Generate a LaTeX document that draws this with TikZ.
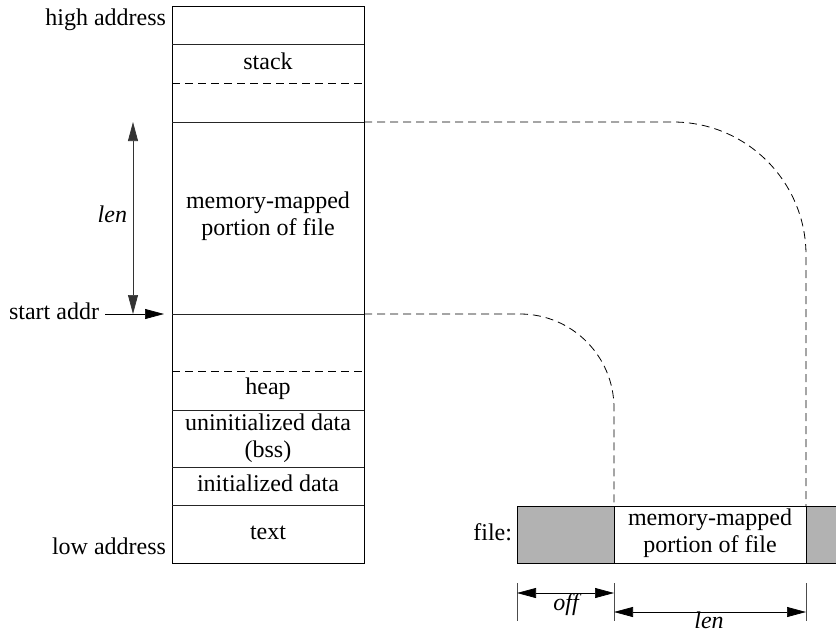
\documentclass[tikz,border=0pt]{standalone}
\usepackage{fontspec}
\setmainfont{Liberation Serif}
\usetikzlibrary{arrows.meta}
\begin{document}
\begin{tikzpicture}[x=1pt,y=-1pt,
  every node/.style={font=\fontsize{24}{26.5}\selectfont, inner sep=0pt, outer sep=0pt},
  lbl/.style={anchor=base},
  lblr/.style={anchor=base east},
  box/.style={draw, line width=0.9pt},
  sep/.style={line width=0.7pt, draw=black!85},
  sepdash/.style={line width=0.7pt, dash pattern=on 8pt off 5pt},
  link/.style={line width=0.8pt, dash pattern=on 8pt off 5pt},
  tick/.style={line width=0.7pt, draw=black!70},
  dimarr/.style={line width=0.7pt, {Triangle[length=19pt,width=10pt]}-{Triangle[length=19pt,width=10pt]}},
  onearr/.style={line width=0.7pt, -{Triangle[length=19pt,width=10pt]}},
  ital/.style={font=\fontsize{24}{26.5}\selectfont\itshape}
]
\useasboundingbox (0,0) rectangle (836,633);

% memory layout column
\node[box, anchor=north west, minimum width=192pt, minimum height=557pt] (mem) at (172,6) {};
\draw[sep] (172,44) -- (364,44);
\draw[sepdash] (172,83) -- (364,83);
\draw[sep] (172,122) coordinate (mtopL) -- (364,122) coordinate (mtop);
\draw[sep] (172,314) coordinate (mbotL) -- (364,314) coordinate (mbot);
\draw[sepdash] (172,371) -- (364,371);
\draw[sep] (172,410) -- (364,410);
\draw[sep] (172,467) -- (364,467);
\draw[sep] (172,505) -- (364,505);

\node[lbl] (stack) at (268,69) {stack};
\node[align=center, anchor=base] (mmtext) at (268,235) {memory-mapped\\portion of file};
\node[lbl] (heap) at (268,394) {heap};
\node[align=center, anchor=base] (bss) at (268,457) {uninitialized data\\(bss)};
\node[lbl] (init) at (268,491) {initialized data};
\node[lbl] (text) at (268,539) {text};

\node[lblr] (high) at (166,25) {high address};
\node[lblr] (low) at (166,554) {low address};

% len arrow and start addr
\coordinate (lenT) at (133,122);
\coordinate (lenB) at (133,314);
\draw[dimarr, draw=black!80] (lenT) -- (lenB);
\node[lblr, ital] (lenL) at (127,222) {len};
\node[lblr] (start) at (99,319) {start addr};
\coordinate (sa1) at (105,314);
\coordinate (sa2) at (164,314);
\draw[onearr] (sa1) -- (sa2);

% file bar
\fill[black!30] (517,506) rectangle (614,563);
\fill[black!30] (806,506) rectangle (836,563);
\draw[line width=0.9pt] (517,506) rectangle (614,563);
\node[draw, line width=0.9pt, anchor=north west, minimum width=192pt, minimum height=57pt] (fileM) at (614,506) {};
\draw[line width=0.9pt] (836,506) -- (806,506) -- (806,563) -- (836,563);
\node[align=center, anchor=base] (ftext) at (710,552) {memory-mapped\\portion of file};
\node[lblr] (filelbl) at (512,540) {file:};

% dashed connectors
\draw[link, rounded corners=133pt] (mtop) -| (fileM.north east);
\draw[link, rounded corners=94pt] (mbot) -| (fileM.north west);

% dimensions
\coordinate (t1a) at (517,583); \coordinate (t1b) at (517,621);
\coordinate (t2a) at (614,583); \coordinate (t2b) at (614,621);
\coordinate (t3a) at (806,583); \coordinate (t3b) at (806,621);
\draw[tick] (t1a) -- (t1b);
\draw[tick] (t2a) -- (t2b);
\draw[tick] (t3a) -- (t3b);
\coordinate (offA) at (517,593); \coordinate (offB) at (614,593);
\coordinate (lenA) at (614,612); \coordinate (lenBB) at (806,612);
\draw[dimarr] (offA) -- (offB);
\draw[dimarr] (lenA) -- (lenBB);
\node[lbl, ital] (offlbl) at (566,610) {off};
\node[lbl, ital] (lenlbl) at (709,628) {len};
\end{tikzpicture}
\end{document}
